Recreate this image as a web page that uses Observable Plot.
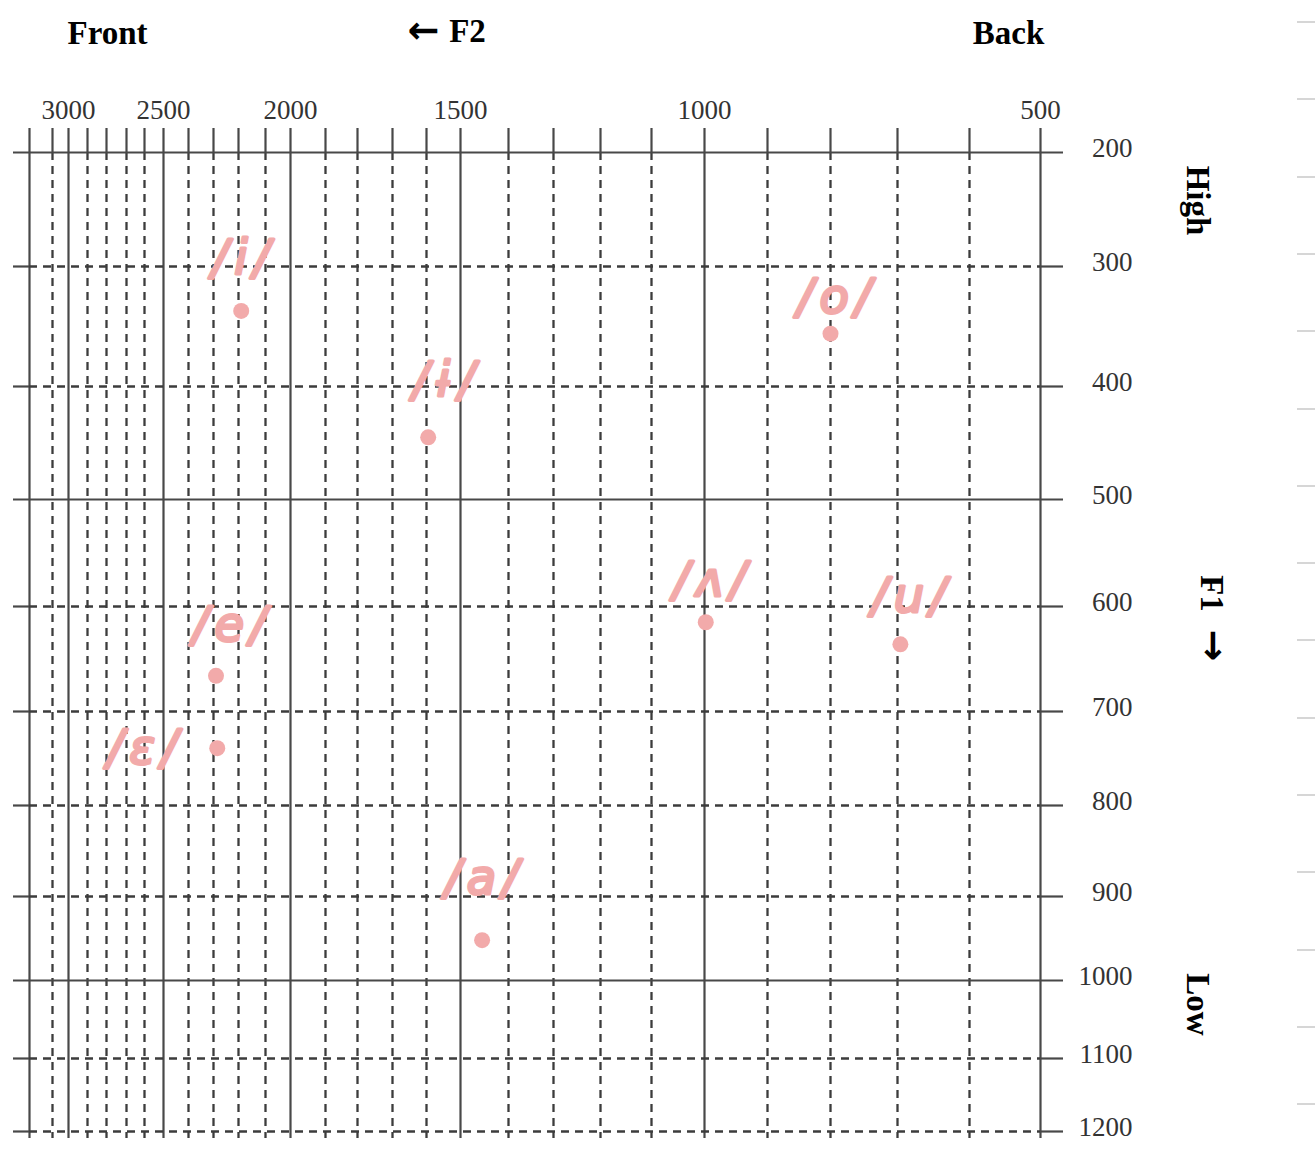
<!DOCTYPE html>
<html>
<head>
<meta charset="utf-8">
<script src="https://cdn.jsdelivr.net/npm/d3@7"></script>
<script src="https://cdn.jsdelivr.net/npm/@observablehq/plot@0.6"></script>
<style>
  html, body { margin: 0; padding: 0; background: #fff; }
  #wrap { position: relative; width: 1315px; height: 1173px; overflow: hidden; background: #fff; }
  #wrap svg { position: absolute; left: 0; top: 0; }
  #edge { position: absolute; left: 1297px; top: 0; width: 18px; height: 1173px;
    background: repeating-linear-gradient(to bottom, transparent 0px, transparent 21px, #d6d6d6 21px, #d6d6d6 23px, transparent 23px, transparent 77.3px); }
  g[fill="#f2aaaa"] text { letter-spacing: 6px; }
</style>
</head>
<body>
<div id="wrap"><div id="edge"></div></div>
<script>
// ---- Data ----
// F2 grid (Hz), solid and dashed lines
const f2Solid = [3200, 3000, 2500, 2000, 1500, 1000, 500];
const f2Dashed = [3100, 2900, 2800, 2700, 2600, 2400, 2300, 2200, 2100, 1900, 1800, 1700, 1600, 1400, 1300, 1200, 1100, 900, 800, 700, 600];
const f2Labels = [3000, 2500, 2000, 1500, 1000, 500];
// F1 grid (Hz)
const f1Solid = [200, 500, 1000];
const f1Dashed = [300, 400, 600, 700, 800, 900, 1100, 1200];
const f1Labels = [200, 300, 400, 500, 600, 700, 800, 900, 1000, 1100, 1200];
// Hand-plotted vowels
const vowelSymbols = ["/i/", "/ɨ/", "/o/", "/e/", "/ɛ/", "/ʌ/", "/u/", "/a/"];
const vowelF2 = [2190, 1595, 800, 2290, 2285, 998, 696, 1455];
const vowelF1 = [337, 445, 356, 666, 739, 615, 636, 952];
const labelF2 = [2180, 1540, 790, 2225, 2595, 987, 680, 1450];
const labelF1 = [293, 395, 326, 618, 739, 576, 591, 880];

const vowels = vowelSymbols.map((s, i) => ({s, f2: vowelF2[i], f1: vowelF1[i], lf2: labelF2[i], lf1: labelF1[i]}));

// ---- Chart ----
const gridDash = "8,6";
const solidC = "#484848", dashC = "#3c3c3c", pink = "#f2aaaa";
const serif = "Liberation Serif, Times New Roman, serif";
const title = {frameAnchor: "top-left", textAnchor: "middle", lineAnchor: "middle", text: d => d, fontSize: 33, fontWeight: "bold", fill: "#000", fontFamily: serif};
const arrow = {...title, fontFamily: "DejaVu Sans", fontSize: 38};

const chart = Plot.plot({
  width: 1315,
  height: 1173,
  margin: 0,
  style: {background: "transparent", fontFamily: serif, overflow: "visible"},
  // Formant-chart template scales (non-uniform, calibrated to the printed grid)
  x: {
    type: "linear", axis: null,
    domain: [3200, 3100, 3000, 2900, 2800, 2700, 2600, 2500, 2400, 2300, 2200, 2100, 2000, 1900, 1800, 1700, 1600, 1500, 1400, 1300, 1200, 1100, 1000, 900, 800, 700, 600, 500],
    range:  [29, 52, 68, 87, 106, 126, 144, 163, 188, 213, 238, 265, 290, 325, 357, 392, 426, 460, 508, 553, 600, 651, 704, 767, 830, 897, 969, 1040]
  },
  y: {
    type: "linear", axis: null,
    domain: [200, 300, 400, 500, 600, 700, 800, 900, 1000, 1100, 1200],
    range:  [152, 266, 386, 499, 606, 711, 805, 896, 980, 1058, 1131]
  },
  marks: [
    // vertical grid
    Plot.ruleX(f2Dashed, {x: d => d, y1: 200, y2: 1200, insetBottom: -7, stroke: dashC, strokeWidth: 2.3, strokeDasharray: gridDash}),
    Plot.ruleX(f2Solid, {x: d => d, y1: 200, y2: 1200, insetBottom: -7, stroke: solidC, strokeWidth: 2.2}),
    Plot.ruleX([...f2Solid, ...f2Dashed], {x: d => d, y1: 200, y2: 200, insetTop: -24, stroke: solidC, strokeWidth: 2.2}),
    // horizontal grid
    Plot.ruleY(f1Dashed, {y: d => d, x1: 3200, x2: 500, stroke: dashC, strokeWidth: 2.3, strokeDasharray: gridDash}),
    Plot.ruleY(f1Dashed, {y: d => d, x1: 3200, x2: 3200, insetLeft: -16, stroke: solidC, strokeWidth: 2.2}),
    Plot.ruleY(f1Dashed, {y: d => d, x1: 500, x2: 500, insetRight: -23, stroke: solidC, strokeWidth: 2.2}),
    Plot.ruleY(f1Solid, {y: d => d, x1: 3200, x2: 500, insetLeft: -16, insetRight: -23, stroke: solidC, strokeWidth: 2.2}),
    // tick labels
    Plot.text(f2Labels, {x: d => d, y: 200, text: d => String(d), dy: -42, fontSize: 27, fill: "#333", fontFamily: serif}),
    Plot.text(f1Labels, {x: 500, y: d => d, text: d => String(d), dx: 92, dy: -4, textAnchor: "end", fontSize: 27, fill: "#333", fontFamily: serif}),
    // titles
    Plot.text(["Front"], {...title, dx: 107, dy: 33}),
    Plot.text(["←"], {...arrow, dx: 423, dy: 30}),
    Plot.text(["F2"], {...title, dx: 467, dy: 31}),
    Plot.text(["Back"], {...title, dx: 1008, dy: 33}),
    Plot.text(["High"], {...title, dx: 1197, dy: 200, rotate: 90}),
    Plot.text(["F1"], {...title, dx: 1211, dy: 593, rotate: 90}),
    Plot.text(["→"], {...arrow, dx: 1213, dy: 645, rotate: 90}),
    Plot.text(["Low"], {...title, dx: 1197, dy: 1004, rotate: 90}),
    // hand-plotted vowels
    Plot.dot(vowels, {x: "f2", y: "f1", r: 8, fill: pink, stroke: "none"}),
    Plot.text(vowels, {x: "lf2", y: "lf1", text: "s", fontSize: 48, fontStyle: "italic", fill: pink, stroke: pink, strokeWidth: 3, fontFamily: "DejaVu Sans"})
  ]
});
document.getElementById("wrap").appendChild(chart);
</script>
</body>
</html>
